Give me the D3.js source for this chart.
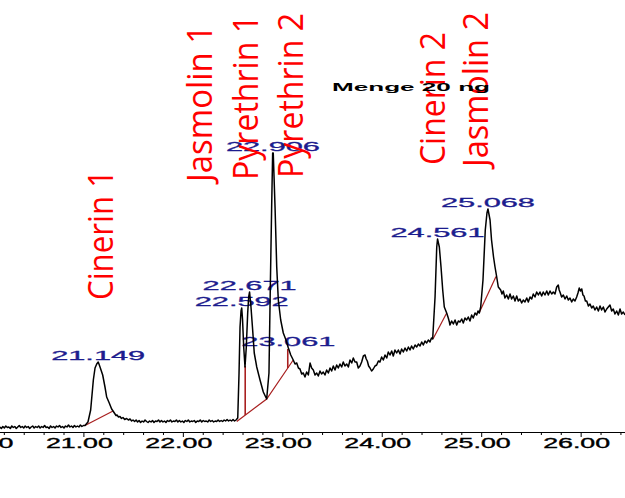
<!DOCTYPE html>
<html><head><meta charset="utf-8">
<script src="https://cdn.jsdelivr.net/npm/d3@7/dist/d3.min.js"></script>
<style>html,body{margin:0;padding:0;background:#fff;overflow:hidden}</style>
</head><body>
<svg id="chart" width="625" height="498"></svg>
<script>
// Chromatogram trace: [retention time (min), signal (arb. units)]
const chromatogram = [
[20.160,5],[20.175,3.5],[20.190,5.5],[20.205,4],[20.220,6],[20.235,4.5],[20.250,5],[20.265,3.5],[20.280,6],[20.295,4.5],[20.310,5.5],[20.325,3.5],[20.340,5],[20.355,6.5],[20.370,4.5],[20.385,5.5],[20.400,4],[20.415,6],[20.430,4.5],[20.445,5.5],[20.460,3.5],[20.475,5],[20.490,6],[20.505,4],[20.520,5.5],[20.535,4.5],[20.550,6],[20.565,4],[20.580,5.5],[20.595,4.5],[20.610,6.5],[20.625,4.5],[20.640,5],[20.655,3.5],[20.670,6],[20.685,4.5],[20.700,5.5],[20.715,4],[20.730,6],[20.745,5],[20.760,6.5],[20.775,4.5],[20.790,5.5],[20.805,4],[20.820,6],[20.835,5],[20.850,7],[20.865,5],[20.880,6],[20.895,4.5],[20.910,6.5],[20.925,5],[20.940,6],[20.955,5],[20.970,7],[20.985,5.5],[21.000,6.5],[21.016,6.5],
[21.046,10],[21.073,22],[21.100,52],[21.117,64],[21.134,68],[21.149,70],[21.160,67],[21.167,65],[21.194,57],[21.217,45],[21.234,35],[21.260,29],[21.284,23],[21.298,21],
[21.318,18],[21.328,16.5],[21.338,17],[21.353,15],[21.368,15.5],[21.383,13.5],[21.398,14.5],[21.415,12.5],[21.435,13.5],[21.452,12],[21.469,13],[21.485,11],[21.499,12],
[21.515,10.5],[21.530,12],[21.545,10],[21.560,11.5],[21.575,9.5],[21.590,11],[21.605,10],[21.620,12],[21.635,10.5],[21.650,9.5],[21.665,11],[21.680,10],[21.695,11.5],[21.710,9.5],[21.725,11],[21.740,10.5],[21.755,12],[21.770,10],[21.785,11.5],[21.800,10],[21.815,11],[21.830,9.5],[21.845,11.5],[21.860,10.5],[21.875,12],[21.890,10],[21.905,11],[21.920,10.5],[21.935,12],[21.950,10],[21.965,11.5],[21.980,10],[21.995,11],[22.010,9.5],[22.025,11.5],[22.040,10.5],[22.055,12],[22.070,10],[22.085,11],[22.100,10.5],[22.115,11.5],[22.130,9.5],[22.145,11],[22.160,10.5],[22.175,12],[22.190,10],[22.205,11.5],[22.220,10.5],[22.235,11],[22.250,10],[22.265,12],[22.280,10.5],[22.295,11.5],[22.310,10],[22.325,11],[22.340,10.5],[22.355,12],[22.370,10.5],[22.385,11.5],[22.400,10.5],[22.415,12],[22.430,11],[22.445,12.5],[22.460,11],[22.475,12],[22.490,11],[22.505,12.5],[22.520,11],[22.535,12],
[22.552,14],[22.565,59],[22.575,105],[22.585,121],[22.592,124],[22.600,113],[22.612,85],[22.625,65],[22.638,85],[22.652,119],[22.662,135],[22.671,140],[22.685,125],[22.702,102],[22.718,79],[22.743,65],[22.776,52],[22.809,40],[22.843,33],[22.866,59],[22.879,142],[22.893,225],[22.903,279],[22.909,279],[22.927,225],[22.944,165],[22.960,132],[22.984,112],[23.010,99],[23.037,92],[23.061,84],[23.085,77],
[23.110,72],[23.128,68],[23.145,69],[23.162,64],[23.178,63],[23.195,58],[23.211,59],[23.228,55],[23.245,60],[23.262,57],[23.279,69],[23.295,64],[23.312,62],[23.329,57],[23.346,59],[23.362,56],[23.379,61],[23.395,58],[23.412,60],[23.429,57],[23.446,62],[23.463,59],[23.480,64],[23.496,61],[23.513,66],[23.530,62],[23.547,67],[23.563,64],[23.580,68],[23.597,65],[23.613,70],[23.630,66],[23.648,68],[23.664,65],[23.681,72],[23.698,69],[23.714,74],[23.731,70],[23.748,70],[23.764,64],[23.781,66],[23.798,70],[23.815,76],[23.832,77],[23.844,73],[23.855,71],[23.868,66],[23.882,64],[23.898,61],[23.915,63],[23.932,66],[23.949,67],[23.966,71],[23.982,70],[23.999,75],[24.016,72],[24.033,77],[24.050,74],[24.066,80],[24.083,77],[24.100,81],[24.116,76],[24.133,82],[24.150,79],[24.167,82],[24.184,78],[24.200,83],[24.217,80],[24.234,84],[24.251,81],[24.268,85],[24.284,82],[24.300,86],[24.317,83],[24.335,87],[24.352,85],[24.368,88],[24.385,86],[24.402,90],[24.418,87],[24.435,91],[24.452,89],[24.468,92],[24.485,90],[24.500,94],[24.512,93],
[24.536,135],[24.553,185],[24.561,193],[24.579,185],[24.596,165],[24.613,142],[24.629,125],[24.653,119],[24.669,114],[24.680,110],[24.686,107],[24.703,111],[24.720,108],[24.737,112],[24.754,107],[24.770,111],[24.787,110],[24.804,113],[24.820,109],[24.837,114],[24.854,112],[24.870,115],[24.887,111],[24.904,117],[24.920,114],[24.938,119],[24.955,117],[24.968,121],[24.981,119],
[24.995,125],[25.018,152],[25.041,202],[25.058,219],[25.068,223],[25.089,212],[25.104,192],[25.124,175],[25.139,165],[25.156,155],[25.172,145],
[25.196,142],[25.209,138],[25.222,141],[25.239,134],[25.256,137],[25.273,133],[25.290,138],[25.306,133],[25.323,136],[25.340,131],[25.357,136],[25.373,131],[25.390,133],[25.407,129],[25.423,132],[25.440,130],[25.458,134],[25.474,130],[25.491,135],[25.508,133],[25.524,138],[25.541,135],[25.558,140],[25.575,137],[25.591,140],[25.608,136],[25.624,140],[25.641,137],[25.659,141],[25.675,137],[25.692,141],[25.709,138],[25.725,140],[25.742,138],[25.759,145],[25.775,147],[25.784,142],[25.792,140],[25.809,135],[25.826,137],[25.843,133],[25.860,136],[25.876,132],[25.893,134],[25.910,130],[25.926,133],[25.943,131],[25.960,135],[25.973,139],[25.986,144],[25.998,141],[26.011,143],[26.023,137],[26.034,136],[26.048,131],[26.061,131],[26.078,126],[26.094,128],[26.111,124],[26.127,126],[26.144,122],[26.161,125],[26.178,121],[26.195,126],[26.211,122],[26.228,125],[26.245,120],[26.262,123],[26.278,125],[26.295,127],[26.312,121],[26.328,123],[26.345,118],[26.362,121],[26.379,117],[26.396,123],[26.412,118],[26.429,120],[26.446,117]
];

// Integrated peak retention times (labels)
const peakTimes = [21.149, 22.592, 22.671, 22.906, 23.061, 24.561, 25.068];

// Integration baselines (red): polylines of [time, signal]
const integrationBaselines = [
  [[21.016,6.5],[21.298,21]],
  [[22.542,10.5],[22.843,33],[23.110,72]],
  [[24.515,93],[24.653,119]],
  [[24.981,119.5],[25.149,155.5]]
];
// Drop lines: [time, low signal, high signal]
const dropLines = [[22.627,17,66],[23.055,64,83]];

// Compound names
const compoundNames = ["Cinerin 1","Jasmolin 1","Pyrethrin 1","Pyrethrin 2","Cinerin 2","Jasmolin 2"];

// Axis ticks
const majorTicks = [20,21,22,23,24,25,26];
const minorTicks = [20.2,20.4,20.6,20.8,21.2,21.4,21.6,21.8,22.2,22.4,22.6,22.8,23.2,23.4,23.6,23.8,24.2,24.4,24.6,24.8,25.2,25.4,25.6,25.8,26.2,26.4];

const annotation = "Menge 20 ng";

// ---------- layout (not data) ----------
const nameLayout = [
  {x:113, y:300, len:130},
  {x:212, y:182, len:157},
  {x:258, y:180, len:165},
  {x:303, y:178, len:165},
  {x:445, y:165, len:133},
  {x:488, y:167, len:155}
];

const svg = d3.select("#chart");
const x = d3.scaleLinear().domain([20.1614, 26.446]).range([0, 625]);
const y = d3.scaleLinear().domain([0, 300]).range([432, 132]);

// axis
const gAxis = svg.append("g").attr("transform","translate(0,432)");
gAxis.call(d3.axisBottom(x).tickValues(minorTicks).tickSize(3).tickFormat(""))
  .call(g=>g.select(".domain").attr("d","M0,0.5H625").attr("stroke","#000"));
const gMajor = svg.append("g").attr("transform","translate(0,432)");
gMajor.call(d3.axisBottom(x).tickValues(majorTicks).tickSize(5).tickPadding(1).tickFormat(d3.format(".2f")))
  .call(g=>g.select(".domain").remove());
gMajor.selectAll("text")
  .attr("font-family","Liberation Sans, Arial, sans-serif")
  .attr("font-size",14)
  .attr("fill","#000")
  .attr("stroke","#000").attr("stroke-width",0.35)
  .attr("dx",-4.5)
  .attr("textLength",67)
  .attr("lengthAdjust","spacingAndGlyphs");
svg.selectAll(".tick line").attr("stroke","#000");

// peak labels
const nearest = t => d3.least(chromatogram, d => Math.abs(d[0]-t));
svg.append("g").selectAll("text").data(peakTimes).join("text")
  .attr("x", d => x(d))
  .attr("y", d => y(nearest(d)[1]) - 2)
  .attr("text-anchor","middle")
  .attr("font-family","Liberation Sans, Arial, sans-serif")
  .attr("font-size",13)
  .attr("fill","#1c1c8e")
  .attr("stroke","#1c1c8e").attr("stroke-width",0.3)
  .attr("textLength",94)
  .attr("lengthAdjust","spacingAndGlyphs")
  .text(d => d3.format(".3f")(d));

// integration baselines
const line = d3.line().x(d=>x(d[0])).y(d=>y(d[1]));
svg.append("g").selectAll("path").data(integrationBaselines).join("path")
  .attr("d", line).attr("fill","none").attr("stroke","#a82020").attr("stroke-width",1.2);
svg.append("g").selectAll("line").data(dropLines).join("line")
  .attr("x1",d=>x(d[0])).attr("x2",d=>x(d[0]))
  .attr("y1",d=>y(d[1])).attr("y2",d=>y(d[2]))
  .attr("stroke","#a82020").attr("stroke-width",1.6);

// trace
svg.append("path").datum(chromatogram)
  .attr("d", line).attr("fill","none").attr("stroke","#000").attr("stroke-width",1.5)
  .attr("stroke-linejoin","round");

// compound names
svg.append("g").selectAll("text").data(compoundNames).join("text")
  .attr("transform",(d,i)=>`translate(${nameLayout[i].x},${nameLayout[i].y}) rotate(-90)`)
  .attr("font-family","Open Sans, sans-serif")
  .attr("font-size",35)
  .attr("fill","#ff0000")
  .attr("textLength",(d,i)=>nameLayout[i].len)
  .attr("lengthAdjust","spacingAndGlyphs")
  .text(d=>d);

// annotation
svg.append("text").attr("x",332).attr("y",91)
  .attr("font-family","Liberation Sans, Arial, sans-serif")
  .attr("font-weight","bold").attr("font-size",11)
  .attr("textLength",158).attr("lengthAdjust","spacingAndGlyphs")
  .attr("fill","#000").text(annotation);
</script>
</body></html>
